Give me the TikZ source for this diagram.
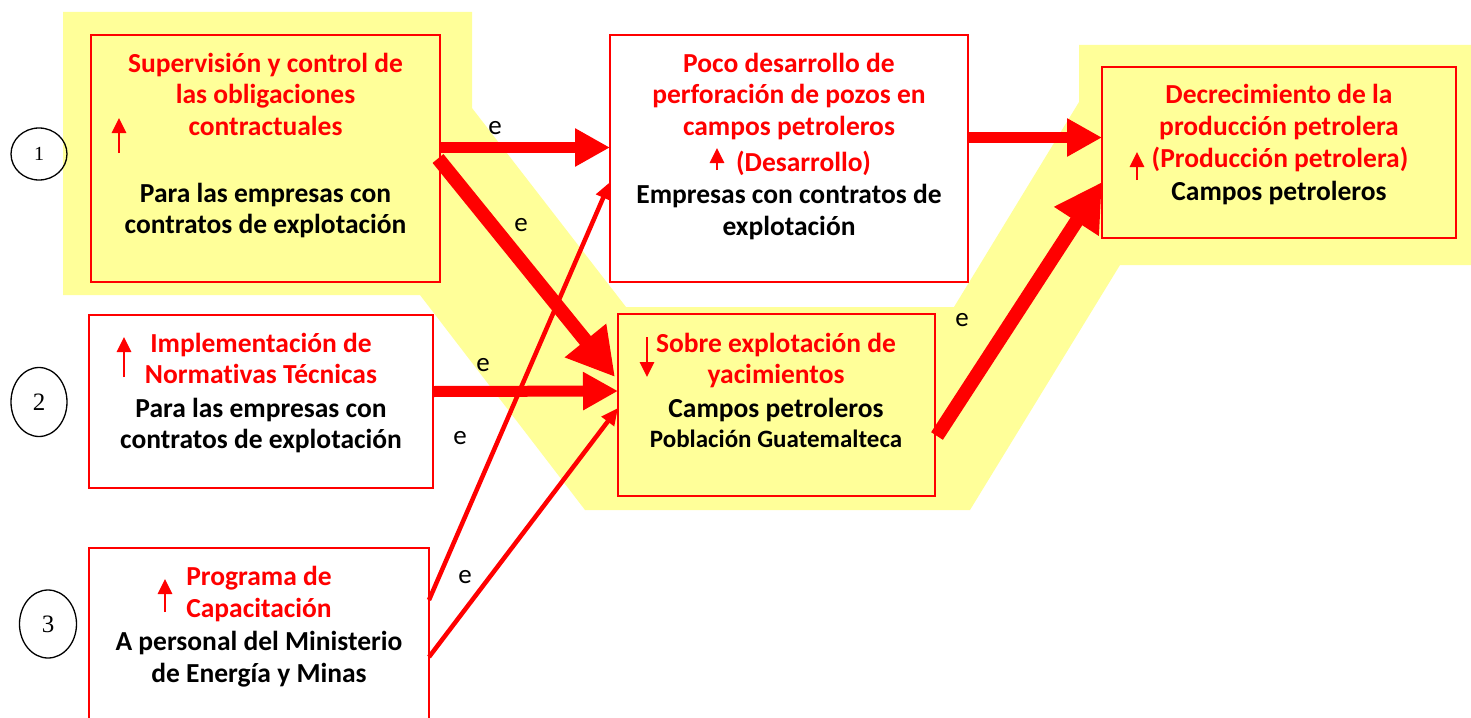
\documentclass[tikz,border=0pt]{standalone}
\usepackage{fontspec}
\setmainfont{Carlito}[Ligatures=NoCommon]
\newfontfamily\numfont{Liberation Serif}
\usetikzlibrary{arrows.meta,shapes.geometric,calc}
\definecolor{hl}{RGB}{255,255,153}
\definecolor{rd}{RGB}{255,0,0}
\begin{document}
\begin{tikzpicture}[x=1pt,y=-1pt,
  box/.style={draw=rd,line width=2.5pt,rectangle,inner sep=0pt,outer sep=0pt},
  rt/.style={text=rd,font=\bfseries\fontsize{27.5}{31}\selectfont,anchor=base,inner sep=0pt},
  bt/.style={text=black,font=\bfseries\fontsize{27.5}{31}\selectfont,anchor=base,inner sep=0pt},
  st/.style={text=black,font=\bfseries\fontsize{25}{28}\selectfont,anchor=base,inner sep=0pt},
  elab/.style={text=black,font=\fontsize{27}{27}\selectfont,inner sep=0pt},
  circ/.style={draw=black,line width=1.3pt,ellipse,inner sep=0pt},
  bigarr/.style={draw=rd,line width=11pt,-{Triangle[length=35pt,width=36pt]}},
  diagarr/.style={draw=rd,line width=14pt,-{Triangle[length=47pt,width=50pt]}},
  thinarr/.style={draw=rd,line width=4.5pt,-{Triangle[length=17pt,width=15pt]}},
  uparr/.style={draw=rd,line width=2.8pt,-{Triangle[length=15pt,width=14pt]}}]
\useasboundingbox (0,0) rectangle (1471,717);
% highlight
\fill[hl] (63,12) -- (472,12) -- (472,108) -- (626,307) -- (954,307) -- (1079,102)
  -- (1079,45) -- (1471,45) -- (1471,265) -- (1120,265) -- (970,510) -- (585,510)
  -- (420,295) -- (63,295) -- cycle;
% boxes
\node[box,fill=hl,minimum width=349pt,minimum height=247pt] (A) at (265.5,158.5) {};
\node[box,fill=white,minimum width=358pt,minimum height=247pt] (B) at (789,158.5) {};
\node[box,fill=hl,minimum width=354pt,minimum height=171pt] (C) at (1279,152.5) {};
\node[box,fill=white,minimum width=344pt,minimum height=173pt] (D) at (261,401.5) {};
\node[box,fill=hl,minimum width=317pt,minimum height=182pt] (E) at (776.5,405) {};
\node[box,fill=white,minimum width=340pt,minimum height=177pt] (F) at (259,636.5) {};
% circles
\node[circ,minimum width=56pt,minimum height=52pt] (c1) at (39,154) {\numfont\fontsize{20}{20}\selectfont 1};
\node[circ,minimum width=56pt,minimum height=69pt] (c2) at (39,402) {\numfont\fontsize{25}{25}\selectfont 2};
\node[circ,minimum width=57pt,minimum height=68pt] (c3) at (48,624) {\numfont\fontsize{25}{25}\selectfont 3};
% texts box A
\node[rt] (a1) at (265.5,72) {Supervisión y control de};
\node[rt] (a2) at (265.5,103) {las obligaciones};
\node[rt] (a3) at (265.5,135) {contractuales};
\node[bt] (a4) at (265.5,202) {Para las empresas con};
\node[bt] (a5) at (265.5,233) {contratos de explotación};
\draw[uparr] (119,153) -- (119,118);
% box B
\node[rt] (b1) at (789,72) {Poco desarrollo de};
\node[rt] (b2) at (789,103) {perforación de pozos en};
\node[rt] (b3) at (789,135) {campos petroleros};
\node[rt] (b4) at (803.5,171) {(Desarrollo)};
\draw[uparr] (717,170) -- (717,148);
\node[bt] (b5) at (789,203) {Empresas con contratos de};
\node[bt] (b6) at (789,235) {explotación};
% box C
\node[rt] (k1) at (1279,103) {Decrecimiento de la};
\node[rt] (k2) at (1279,135) {producción petrolera};
\node[rt] (k3) at (1280,167) {(Producción petrolera)};
\draw[uparr] (1137,180) -- (1137,152);
\node[bt] (k4) at (1279,200) {Campos petroleros};
% box D
\draw[uparr] (124,377) -- (124,337);
\node[rt] (d1) at (261,352) {Implementación de};
\node[rt] (d2) at (261,383) {Normativas Técnicas};
\node[bt] (d3) at (261,417) {Para las empresas con};
\node[bt] (d4) at (261,448) {contratos de explotación};
% box E
\draw[uparr] (647,337) -- (647,377);
\node[rt] (e1) at (776,352) {Sobre explotación de};
\node[rt] (e2) at (776,383) {yacimientos};
\node[bt] (e3) at (776,417) {Campos petroleros};
\node[st] (e4) at (776,447) {Población Guatemalteca};
% box F
\draw[uparr] (165,612) -- (165,579);
\node[rt] (f1) at (259,585) {Programa de};
\node[rt] (f2) at (259,617) {Capacitación};
\node[bt] (f3) at (259,650) {A personal del Ministerio};
\node[bt] (f4) at (259,682) {de Energía y Minas};
% connectors
\draw[bigarr] ($(A.east)+(0,-11)$) -- ($(B.west)+(0,-11)$);
\draw[bigarr] ($(D.east)+(0,-10)$) -- ($(E.west)+(0,-14)$);
\draw[bigarr] ($(B.east)+(0,-21)$) -- ($(C.west)+(0,-15)$);
\draw[thinarr] ($(F.north east)+(0,52)$) -- ($(B.west)+(0,23.5)$);
\draw[thinarr] ($(F.north east)+(0,109)$) -- ($(E.west)+(0,3)$);
\draw[diagarr] ($(A.east)+(-2,0)$) -- ($(E.west)+(-3,-28)$);
\draw[diagarr] ($(E.east)+(2,31)$) -- ($(C.west)+(0,29.5)$);
% labels
\node[elab] (l1) at (495,128) {e};
\node[elab] (l2) at (521,225) {e};
\node[elab] (l3) at (483,365) {e};
\node[elab] (l4) at (460,438) {e};
\node[elab] (l5) at (465,577) {e};
\node[elab] (l6) at (962,320) {e};
\end{tikzpicture}
\end{document}
